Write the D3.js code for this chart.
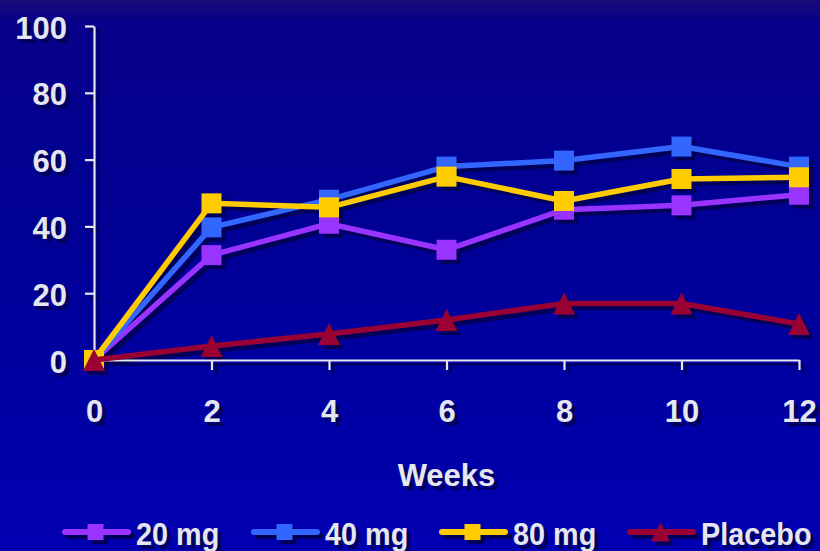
<!DOCTYPE html>
<html><head><meta charset="utf-8">
<script src="https://cdn.jsdelivr.net/npm/d3@7"></script>
<style>html,body{margin:0;padding:0;background:#000090;}svg{display:block;}</style>
</head><body>
<svg id="c" width="820" height="551"></svg>
<script>
const weeks = [0, 2, 4, 6, 8, 10, 12];
const seriesNames = ["20 mg", "40 mg", "80 mg", "Placebo"];
const mg20 = [0, 31.4, 40.8, 33, 45, 46.3, 49.5];
const mg40 = [0, 39.7, 48, 57.9, 59.7, 63.9, 57.9];
const mg80 = [0, 46.9, 45.7, 54.9, 47.6, 54.2, 54.7];
const placebo = [0, 4.2, 7.8, 12, 16.9, 16.9, 10.8];
const yTicks = [0, 20, 40, 60, 80, 100];
const xTicks = [0, 2, 4, 6, 8, 10, 12];
const xTitle = "Weeks";

const colors = ["#9933FF", "#3366FF", "#FFCC00", "#990033"];
const shapes = ["square", "square", "square", "triangle"];
const seriesVals = [mg20, mg40, mg80, placebo];
const textColor = "#E6E6EE";
const shadowColor = "#00005A";
const font = "'Liberation Sans', Arial, sans-serif";

const svg = d3.select("#c");
const defs = svg.append("defs");
const grad = defs.append("linearGradient").attr("id","bg").attr("x1",0).attr("y1",0).attr("x2",0).attr("y2",1);
[[0,"#1C0A78"],[0.04,"#07008A"],[0.4,"#000094"],[1,"#0000B2"]].forEach(([o,c])=>grad.append("stop").attr("offset",o).attr("stop-color",c));
svg.append("rect").attr("width",820).attr("height",551).attr("fill","url(#bg)");

const x = d3.scaleLinear().domain([0,12]).range([94,799]);
const y = d3.scaleLinear().domain([0,100]).range([360,26]);

function drawAxes(g, col){
  const ya = g.append("g").attr("transform","translate(94,0)")
    .call(d3.axisLeft(y).tickValues(yTicks).tickSize(9).tickPadding(18).tickSizeOuter(0));
  const xa = g.append("g").attr("transform","translate(0,360)")
    .call(d3.axisBottom(x).tickValues(xTicks).tickSize(10).tickPadding(30).tickSizeOuter(0));
  [ya, xa].forEach(a=>{
    a.select(".domain").attr("stroke",col).attr("stroke-width",2.2);
    a.selectAll(".tick line").attr("stroke",col).attr("stroke-width",2.2);
    a.selectAll("text").attr("fill",col).attr("font-family",font)
      .attr("font-weight","bold").attr("font-size",31);
  });
  ya.selectAll("text").attr("dy","0.39em");
}

const shadowG = svg.append("g").attr("transform","translate(4,4)");
const mainG = svg.append("g");

function markerPath(shape, s){
  if(shape==="square") return `M${-s/2},${-s/2}h${s}v${s}h${-s}Z`;
  return `M0,${-s/2}L${s/2},${s/2}L${-s/2},${s/2}Z`;
}

const line = d3.line().x((d,i)=>x(weeks[i])).y(d=>y(d));

function drawSeries(g, isShadow){
  seriesVals.forEach((vals, k)=>{
    const col = isShadow ? shadowColor : colors[k];
    g.append("path").attr("d", line(vals)).attr("fill","none")
      .attr("stroke", col).attr("stroke-width", 5.5).attr("stroke-linejoin","round");
    g.selectAll(null).data(vals).enter().append("path")
      .attr("transform",(d,i)=>`translate(${x(weeks[i])},${y(d)})`)
      .attr("d", markerPath(shapes[k], shapes[k]==="square"?20:22))
      .attr("fill", col);
  });
}

function drawText(g, col, isShadow){
  g.append("text").attr("x", (x(0)+x(12))/2).attr("y", 486)
    .attr("text-anchor","middle").attr("fill",col).attr("font-family",font)
    .attr("font-weight","bold").attr("font-size",31).text(xTitle);
  const legX = [65, 254, 442, 630];
  seriesNames.forEach((name,k)=>{
    const c = isShadow ? col : colors[k];
    const lx = legX[k];
    g.append("line").attr("x1",lx).attr("x2",lx+63).attr("y1",532).attr("y2",532)
      .attr("stroke",c).attr("stroke-width",6).attr("stroke-linecap","round");
    g.append("path").attr("transform",`translate(${lx+30.5},532)`)
      .attr("d", markerPath(shapes[k], shapes[k]==="square"?16:19)).attr("fill",c);
    g.append("text").attr("transform",`translate(${lx+71},545) scale(0.93,1)`)
      .attr("fill",col).attr("font-family",font)
      .attr("font-weight","bold").attr("font-size",31).text(name);
  });
}

drawAxes(shadowG, shadowColor);
drawSeries(shadowG, true);
drawText(shadowG, shadowColor, true);
drawAxes(mainG, textColor);
drawSeries(mainG, false);
drawText(mainG, textColor, false);
</script>
</body></html>
